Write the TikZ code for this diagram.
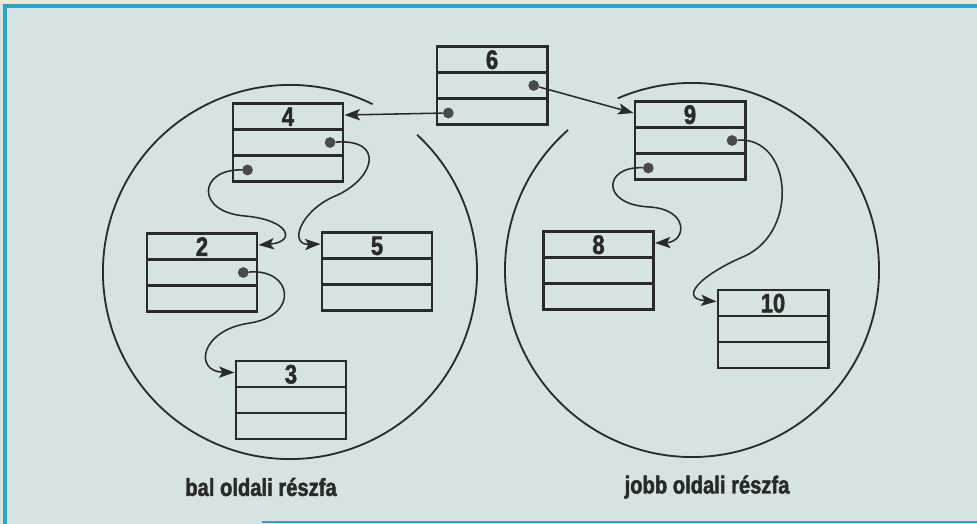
\documentclass[tikz,border=0pt]{standalone}
\usepackage{fontspec}
\usepackage{xcolor}
\usepackage{tikz}
\usetikzlibrary{calc, arrows.meta, positioning}

\newfontfamily\keskeny{Liberation Sans}[FakeStretch=0.82, BoldFeatures={FakeBold=1.8}]
\definecolor{hatter}{HTML}{D6E3E3}
\definecolor{papir}{HTML}{ECE8D8}
\definecolor{keretkek}{HTML}{2BA3C6}
\definecolor{tinta}{HTML}{2A2A2A}

\tikzset{
  elem/.style={draw=tinta, line width=2.1pt, minimum width=2.75cm, minimum height=1.95cm,
    inner sep=0pt, text height=0.56cm, text depth=1.39cm, text=tinta,
    font=\keskeny\bfseries\fontsize{19}{19}\selectfont,
    path picture={
      \draw[tinta, line width=2.1pt]
        ([yshift=-0.65cm]path picture bounding box.north west) -- ([yshift=-0.65cm]path picture bounding box.north east)
        ([yshift=0.65cm]path picture bounding box.south west) -- ([yshift=0.65cm]path picture bounding box.south east);
    }},
  mutato/.style={circle, fill=tinta!85, inner sep=0pt, minimum size=0.27cm},
  nyil/.style={->, tinta, line width=1.1pt},
  kor/.style={tinta, line width=1.3pt},
  felirat/.style={text=tinta, font=\keskeny\bfseries\fontsize{17.5}{17.5}\selectfont},
}

\begin{document}
\begin{tikzpicture}[x=0.025cm, y=-0.025cm, >={Stealth[length=11pt, width=8pt, inset=2.5pt]}]
    \useasboundingbox (0,0) rectangle (977,524);

    % 1. Háttér és kék keret
    \fill[hatter] (0,0) rectangle (977,524);
    \fill[papir] (0,0) rectangle (977,3);
    \draw[keretkek, line width=2.4pt] (5,524) -- (5,6) -- (977,6);
    \draw[keretkek, line width=1.5pt] (262,522) -- (977,522);

    % 2. A két részfa köre (a nyilaknál megszakítva)
    \draw[kor] (290,272) ++(63.8:4.675cm) arc[start angle=63.8, end angle=407.2, radius=4.675cm];
    \draw[kor] (692,270) ++(131.5:4.675cm) arc[start angle=131.5, end angle=473.4, radius=4.675cm];

    % 3. A fa elemei
    \node[elem] (n6) at (492,85.5) {6};
    \node[elem] (n4) at (288,142.5) {4};
    \node[elem] (n9) at (690,140.5) {9};
    \node[elem] (n2) at (202,272.5) {2};
    \node[elem] (n5) at (377,271.5) {5};
    \node[elem] (n3) at (291,400) {3};
    \node[elem] (n8) at (598.5,270.5) {8};
    \node[elem] (n10) at (773,329) {10};

    % 4. Mutatók
    \node[mutato] (p6j) at ([xshift=-0.37cm]n6.east) {};
    \node[mutato] (p6b) at ([shift={(0.32cm,0.325cm)}]n6.south west) {};
    \node[mutato] (p4j) at ([xshift=-0.36cm]n4.east) {};
    \node[mutato] (p4b) at ([shift={(0.4cm,0.325cm)}]n4.south west) {};
    \node[mutato] (p9j) at ([xshift=-0.36cm]n9.east) {};
    \node[mutato] (p9b) at ([shift={(0.37cm,0.325cm)}]n9.south west) {};
    \node[mutato] (p2j) at ([xshift=-0.38cm]n2.east) {};

    % 5. Nyilak
    \draw[nyil] (p6b) -- ([yshift=-0.325cm]n4.north east);
    \draw[nyil] (p6j) -- ([yshift=-0.325cm]n9.north west);
    \draw[nyil] (p4b) .. controls +(-49,-1) and +(-50,-4) .. (245,216)
        .. controls +(45,4) and +(38,-3) .. ([yshift=-0.325cm]n2.north east);
    \draw[nyil] (p4j) .. controls +(56,-4) and +(42,-17) .. (333,197)
        .. controls +(-33,15) and +(-32,1) .. ([yshift=-0.325cm]n5.north west);
    \draw[nyil] (p2j) .. controls +(49,-4) and +(50,-8) .. (250,323)
        .. controls +(-50,7) and +(-41,-1) .. ([yshift=-0.325cm]n3.north west);
    \draw[nyil] (p9b) .. controls +(-45,-2) and +(-50,-2) .. (650,207)
        .. controls +(40,3) and +(31,-1) .. ([yshift=-0.325cm]n8.north east);
    \draw[nyil] (p9j) .. controls +(59,-4) and +(55,-26) .. (745,256)
        .. controls +(-45,19) and +(-38,-3) .. ([yshift=-0.325cm]n10.north west);

    % 6. Feliratok
    \node[felirat] (bal) at (261,487) {bal oldali részfa};
    \node[felirat] (jobb) at (707,487) {jobb oldali részfa};

\end{tikzpicture}
\end{document}
